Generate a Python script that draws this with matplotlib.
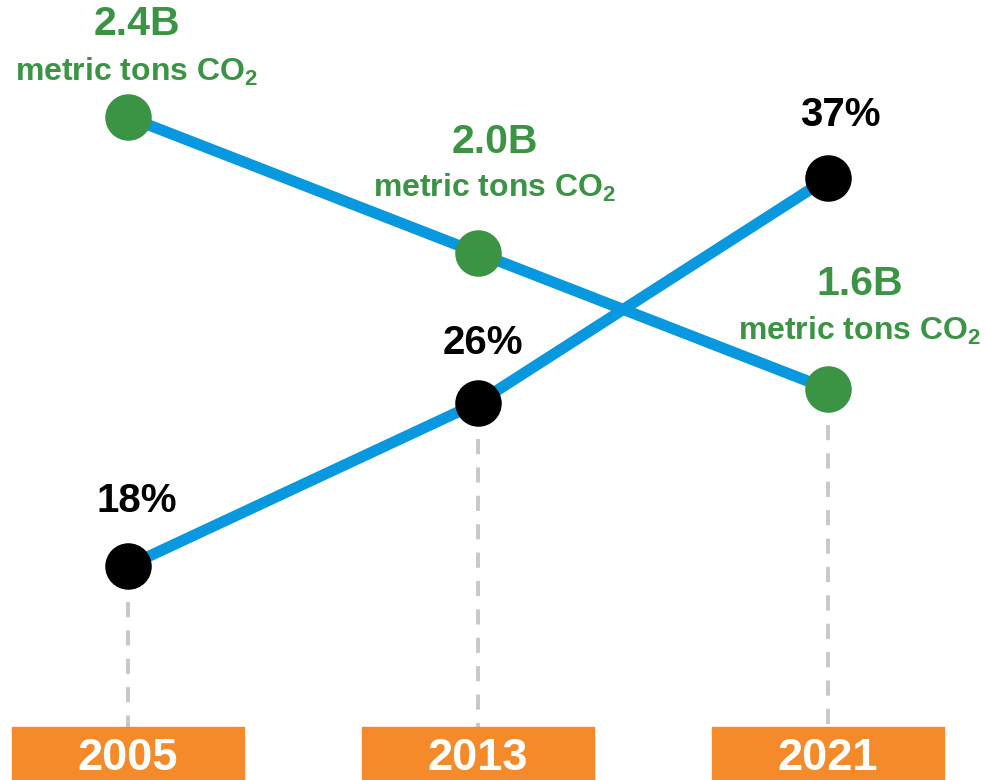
import matplotlib.pyplot as plt
from matplotlib.patches import Rectangle
from matplotlib.transforms import blended_transform_factory

plt.rcParams['font.family'] = ['Liberation Sans', 'DejaVu Sans']
plt.rcParams['font.weight'] = 'bold'

# data
years = [2005, 2013, 2021]
co2_billion = [2.4, 2.0, 1.6]
share_pct = [18, 26, 37]
co2_labels = ["2.4B", "2.0B", "1.6B"]
pct_labels = ["18%", "26%", "37%"]
year_labels = ["2005", "2013", "2021"]

# label placement (pixel offsets from the marker)
co2_value_off = [(9, 93), (17, 111), (32, 105)]
co2_unit_off = [(9, 36), (17, 56), (32, 49)]
pct_off = [(9, 65), (5, 60), (12, 63)]

blue = "#0898e0"
green = "#3a9444"
orange = "#f58a2a"
gray = "#c8c8c8"

fig = plt.figure(figsize=(9.85, 7.8), dpi=100)
ax = fig.add_axes([0, 0, 1, 1])
ax2 = ax.twinx()
ax.set_xlim(2002.074, 2024.589)
ax.set_ylim(7.52, 45.72)
ax2.set_ylim(0.45, 2.744)
ax.axis("off")
ax2.axis("off")

# lines + markers
ax.plot(years, share_pct, color=blue, lw=8, solid_capstyle="butt", zorder=2)
ax.plot(years, share_pct, "o", color="black", ms=33.5, mec="none", zorder=3)
ax2.plot(years, co2_billion, color=blue, lw=8, solid_capstyle="butt", zorder=2)
ax2.plot(years, co2_billion, "o", color=green, ms=33.5, mec="none", zorder=3)

# labels
for i, yr in enumerate(years):
    ax.annotate(pct_labels[i], (yr, share_pct[i]), xytext=pct_off[i],
                textcoords="offset pixels", ha="center", va="center",
                fontsize=29, fontweight="bold", color="black")
    ax2.annotate(co2_labels[i], (yr, co2_billion[i]), xytext=co2_value_off[i],
                 textcoords="offset pixels", ha="center", va="center",
                 fontsize=29.5, fontweight="bold", color=green)
    ax2.annotate(r"metric tons CO$_\mathregular{2}$", (yr, co2_billion[i]),
                 xytext=co2_unit_off[i], textcoords="offset pixels",
                 ha="center", va="baseline", fontsize=23,
                 fontweight="bold", color=green)

# dashed guides and year boxes
trans = blended_transform_factory(ax.transData, ax.transAxes)
box_top = 53 / 780
box_w = 5.3
for i, yr in enumerate(years):
    y1 = ax.transData.transform((yr, share_pct[i]))[1]
    y2 = ax2.transData.transform((yr, co2_billion[i]))[1]
    start = ax.transAxes.inverted().transform((0, min(y1, y2) - 36))[1]
    ax.plot([yr, yr], [start, box_top], transform=trans, color=gray,
            lw=2.8, dashes=(3.9, 3.4), zorder=1)
    ax.add_patch(Rectangle((yr - box_w / 2, -0.05), box_w, box_top + 0.05,
                           transform=trans, color=orange, zorder=4,
                           clip_on=False))
    ax.text(yr, 10 / 780, year_labels[i], transform=trans, ha="center",
            va="baseline", fontsize=32.5, fontweight="bold", color="white",
            zorder=5)

plt.savefig("out.png", dpi=100)
